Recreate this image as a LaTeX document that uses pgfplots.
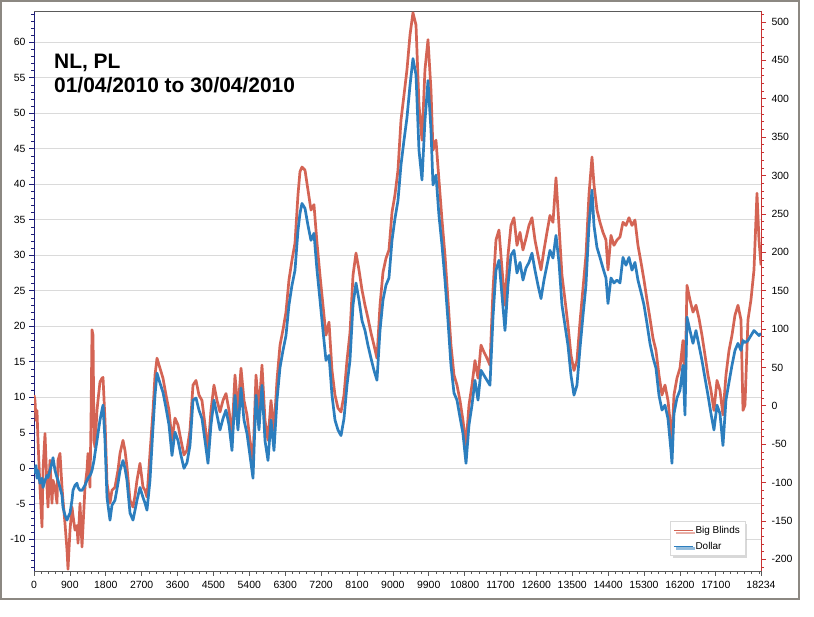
\documentclass[border=0pt]{standalone}
\usepackage{pgfplots}
\pgfplotsset{compat=1.18}
\usepackage{pgfplotstable}
\usepackage{fontspec}
\setmainfont{Liberation Sans}
\usetikzlibrary{shadows}

\definecolor{bbred}{RGB}{212,100,84}
\definecolor{dolblue}{RGB}{44,126,190}
\definecolor{leftax}{RGB}{30,30,120}
\definecolor{rightax}{RGB}{200,50,50}
\definecolor{gridc}{RGB}{218,218,218}
\definecolor{framec}{RGB}{140,136,130}
\definecolor{xaxc}{RGB}{90,90,90}

\pgfplotstableread{
x D
0 0.0
25 -0.6
50 0.4
75 -1.4
100 -0.3
150 -2.1
201 -1.4
226 -2.7
276 -1.7
326 -1.0
351 -1.3
401 -0.3
451 0.8
477 1.5
527 -0.3
577 -1.3
602 -1.7
652 -2.7
702 -3.8
727 -5.5
777 -6.6
828 -7.3
853 -6.9
903 -6.3
953 -4.5
978 -3.1
1028 -2.4
1078 -2.1
1104 -2.7
1154 -3.1
1204 -3.1
1279 -2.4
1329 -1.7
1354 -1.4
1404 -1.0
1430 -0.7
1455 -0.3
1480 0.4
1505 1.1
1530 2.1
1580 3.9
1605 4.9
1655 6.8
1705 8.2
1731 8.9
1781 3.9
1831 -4.1
1906 -7.3
1956 -5.2
2031 -4.5
2107 -2.1
2157 -0.3
2232 1.1
2282 0.0
2332 -1.7
2408 -6.3
2483 -7.3
2533 -5.9
2583 -4.5
2658 -2.7
2734 -4.1
2784 -4.9
2834 -5.9
2909 -1.7
2985 5.8
3035 10.3
3085 13.4
3160 12.0
3235 10.7
3311 8.5
3386 6.1
3461 1.8
3536 5.1
3612 3.9
3687 1.8
3762 0.0
3837 0.8
3912 3.2
3988 9.6
4063 9.9
4138 8.2
4213 7.0
4289 3.9
4364 0.7
4439 6.1
4514 9.6
4590 7.5
4665 5.4
4740 7.0
4815 8.2
4891 6.1
4966 2.5
5041 10.3
5116 5.4
5192 11.3
5267 6.8
5342 4.9
5417 1.8
5493 -1.4
5568 10.3
5643 5.4
5718 11.7
5794 3.9
5869 1.1
5944 6.8
6019 2.5
6094 9.6
6170 14.2
6245 16.6
6320 18.7
6395 23.0
6471 25.8
6546 27.9
6621 33.5
6671 35.9
6721 37.3
6797 36.6
6872 34.2
6947 32.1
7022 33.1
7098 27.9
7173 23.7
7248 19.4
7323 15.2
7399 15.9
7474 10.3
7549 6.8
7624 5.4
7700 4.6
7775 7.0
7850 11.7
7925 15.2
8001 23.0
8076 26.1
8151 23.7
8226 20.8
8302 19.4
8377 17.3
8452 15.5
8527 13.8
8602 12.4
8678 19.4
8753 23.7
8828 25.8
8903 26.8
8979 32.1
9054 35.2
9129 37.7
9204 42.7
9280 46.2
9355 49.4
9430 53.9
9505 57.7
9581 55.4
9656 44.8
9731 40.6
9806 49.0
9882 54.6
9957 47.6
10007 39.9
10082 41.3
10157 35.6
10233 31.4
10308 26.5
10383 20.8
10458 14.5
10534 10.6
10609 9.6
10684 7.2
10759 4.9
10835 0.7
10910 6.1
10985 8.9
11060 12.4
11136 9.6
11211 13.8
11286 13.1
11361 12.4
11436 11.7
11512 21.3
11587 27.9
11662 29.3
11737 24.4
11813 19.4
11888 25.8
11963 30.0
12038 30.7
12114 27.5
12189 29.0
12264 26.5
12339 28.2
12415 29.0
12490 30.3
12565 27.9
12640 25.8
12716 23.9
12791 26.5
12866 28.6
12941 30.7
13017 29.6
13092 32.8
13167 29.0
13242 23.0
13318 20.1
13393 17.3
13468 13.1
13543 10.3
13618 11.7
13694 16.9
13769 21.5
13844 25.8
13919 34.2
13995 39.2
14045 34.2
14120 31.1
14195 29.7
14270 28.2
14346 26.8
14396 23.2
14471 26.8
14546 26.1
14622 26.5
14697 26.1
14772 29.7
14847 28.6
14923 29.7
14998 27.9
15073 29.0
15148 26.5
15224 24.8
15299 23.0
15374 20.4
15449 17.6
15525 15.6
15600 14.1
15675 10.3
15750 8.2
15826 8.9
15901 7.0
15976 2.5
16001 0.7
16051 7.7
16126 9.9
16202 11.0
16277 14.5
16327 7.5
16377 21.3
16452 19.4
16528 17.6
16603 19.4
16678 17.3
16753 15.2
16829 12.7
16904 10.3
16979 7.7
17054 5.4
17130 8.9
17205 7.7
17280 3.2
17355 9.6
17431 12.1
17506 14.5
17581 16.6
17656 17.6
17732 16.6
17782 18.0
17832 17.7
17907 18.0
17982 18.7
18058 19.4
18133 19.0
18183 18.7
18234 19.0
}\dollar

\pgfplotstableread{
x BB
0 14
25 7
50 -19
75 -6
100 -45
150 -106
201 -158
226 -84
276 -36
326 -106
351 -132
401 -71
451 -127
477 -97
527 -106
577 -127
602 -71
652 -62
702 -106
727 -123
777 -153
828 -188
853 -213
903 -162
953 -132
978 -143
1028 -162
1078 -156
1104 -179
1154 -127
1204 -184
1279 -106
1329 -84
1354 -62
1404 -106
1430 -19
1455 99
1480 92
1505 -45
1530 -54
1580 -6
1605 7
1655 31
1705 36
1731 37
1781 -19
1831 -101
1906 -127
1956 -110
2031 -106
2107 -84
2157 -62
2232 -45
2282 -58
2332 -80
2408 -123
2483 -132
2533 -117
2583 -97
2658 -75
2734 -106
2784 -110
2834 -119
2909 -62
2985 -6
3035 40
3085 62
3160 49
3235 36
3311 14
3386 -6
3461 -45
3536 -16
3612 -25
3687 -45
3762 -64
3837 -58
3912 -32
3988 27
4063 33
4138 14
4213 7
4289 -25
4364 -58
4439 -6
4514 27
4590 7
4665 -8
4740 7
4815 16
4891 -6
4966 -38
5041 40
5116 -6
5192 49
5267 7
5342 -12
5417 -45
5493 -71
5568 40
5643 -6
5718 53
5794 -19
5869 -45
5944 7
6019 -32
6094 33
6170 79
6245 99
6320 122
6395 164
6471 190
6546 212
6621 275
6671 305
6721 311
6797 307
6872 281
6947 255
7022 262
7098 212
7173 170
7248 131
7323 92
7399 109
7474 46
7549 14
7624 -3
7700 -8
7775 14
7850 59
7925 95
8001 170
8076 199
8151 177
8226 151
8302 131
8377 114
8452 95
8527 79
8602 62
8678 131
8753 174
8828 192
8903 203
8979 252
9054 275
9129 307
9204 372
9280 405
9355 438
9430 483
9505 512
9581 496
9656 392
9731 346
9806 438
9882 477
9957 411
10007 333
10082 346
10157 294
10233 242
10308 196
10383 138
10458 79
10534 40
10609 27
10684 7
10759 -19
10835 -51
10910 1
10985 27
11060 59
11136 36
11211 79
11286 70
11361 62
11436 53
11512 151
11587 216
11662 229
11737 179
11813 131
11888 196
11963 235
12038 245
12114 209
12189 226
12264 203
12339 218
12415 235
12490 245
12565 216
12640 196
12716 177
12791 203
12866 226
12941 248
13017 239
13092 297
13167 235
13242 170
13318 138
13393 105
13468 66
13543 46
13618 59
13694 109
13769 153
13844 196
13919 275
13995 324
14045 288
14120 255
14195 239
14270 226
14346 216
14396 177
14471 222
14546 209
14622 216
14697 220
14772 239
14847 235
14923 245
14998 235
15073 242
15148 209
15224 187
15299 164
15374 138
15449 114
15525 88
15600 72
15675 40
15750 14
15826 27
15901 7
15976 -32
16001 -45
16051 14
16126 36
16202 49
16277 85
16327 20
16377 157
16452 138
16528 122
16603 131
16678 114
16753 92
16829 66
16904 40
16979 20
17054 -6
17130 33
17205 20
17280 -12
17355 40
17431 72
17506 92
17581 118
17656 131
17732 112
17782 -6
17832 1
17907 112
17982 138
18058 177
18133 277
18183 216
18234 183
}\bigblinds

\pgfplotsset{
  common/.style={
    at={(34bp,46bp)}, anchor=south west, scale only axis,
    width=727bp, height=560bp,
    xmin=0, xmax=18234,
    scaled x ticks=false, scaled y ticks=false,
    tick label style={font=\fontsize{10.5}{12}\selectfont, black},
    /pgf/number format/assume math mode=true,
    tick align=outside,
    major tick length=5bp, minor tick length=3bp,
  }
}

\begin{document}
\begin{tikzpicture}
\useasboundingbox (0,0) rectangle (814bp,617bp);
\fill[white] (0,0) rectangle (814bp,617bp);
\draw[framec, line width=1.2bp] (1bp,18bp) rectangle (799bp,616bp);

% axis 1: grid, left axis, x axis
\begin{axis}[common,
  ymin=-14.46, ymax=64.4,
  axis x line*=bottom, axis y line*=left,
  x axis line style={xaxc, -, line width=0.8bp},
  y axis line style={leftax, -, line width=0.9bp},
  xtick={0,900,1800,2700,3600,4500,5400,6300,7200,8100,9000,9900,10800,11700,12600,13500,14400,15300,16200,17100,18234},
  xticklabels={0,900,1800,2700,3600,4500,5400,6300,7200,8100,9000,9900,10800,11700,12600,13500,14400,15300,16200,17100,18234},
  minor xtick={0,180,...,18180},
  xtick style={xaxc, line width=0.6bp},
  ytick={-10,-5,...,60},
  minor ytick={-14,-13,...,64},
  ytick style={leftax, line width=0.6bp},
  ymajorgrids, grid style={gridc, line width=0.8bp},
  xticklabel style={yshift=-2bp},
]
\draw[xaxc, line width=0.8bp] (rel axis cs:0,1) -- (rel axis cs:1,1);
\end{axis}

% axis 2: right axis, Big Blinds
\begin{axis}[common,
  ymin=-215.2, ymax=514.3,
  axis y line*=right, axis x line=none,
  y axis line style={rightax, -, line width=0.9bp},
  ytick={-200,-150,...,500},
  minor ytick={-210,-200,...,510},
  ytick style={rightax, line width=0.6bp},
  yticklabel style={xshift=2bp},
]
\addplot[bbred, line width=2.7bp, line join=round] table[x=x, y=BB]{\bigblinds};
\end{axis}

% axis 3: Dollar on left scale, legend
\begin{axis}[common,
  ymin=-14.46, ymax=64.4,
  hide axis,
  legend cell align=left,
  legend image code/.code={\draw[#1, line width=1.3bp] (0bp,0bp) -- (19bp,0bp);},
  legend style={at={(0.978,0.027)}, anchor=south east,
    draw=gray!30, fill=white, font=\fontsize{10}{12}\selectfont,
    drop shadow={shadow xshift=2.5bp, shadow yshift=-2.5bp, fill=gray!60},
    row sep=3bp, inner xsep=3bp, inner ysep=3bp},
]
\addlegendimage{bbred, line width=1.3bp}
\addlegendentry{Big Blinds}
\addplot[dolblue, line width=2.7bp, line join=round] table[x=x, y=D]{\dollar};
\addlegendentry{Dollar}
\end{axis}

\node[anchor=base west, inner sep=0pt, font=\fontsize{21}{24}\selectfont\bfseries] at (54bp,548bp) {NL, PL};
\node[anchor=base west, inner sep=0pt, font=\fontsize{21}{24}\selectfont\bfseries] at (54bp,524bp) {01/04/2010 to 30/04/2010};
\end{tikzpicture}
\end{document}
